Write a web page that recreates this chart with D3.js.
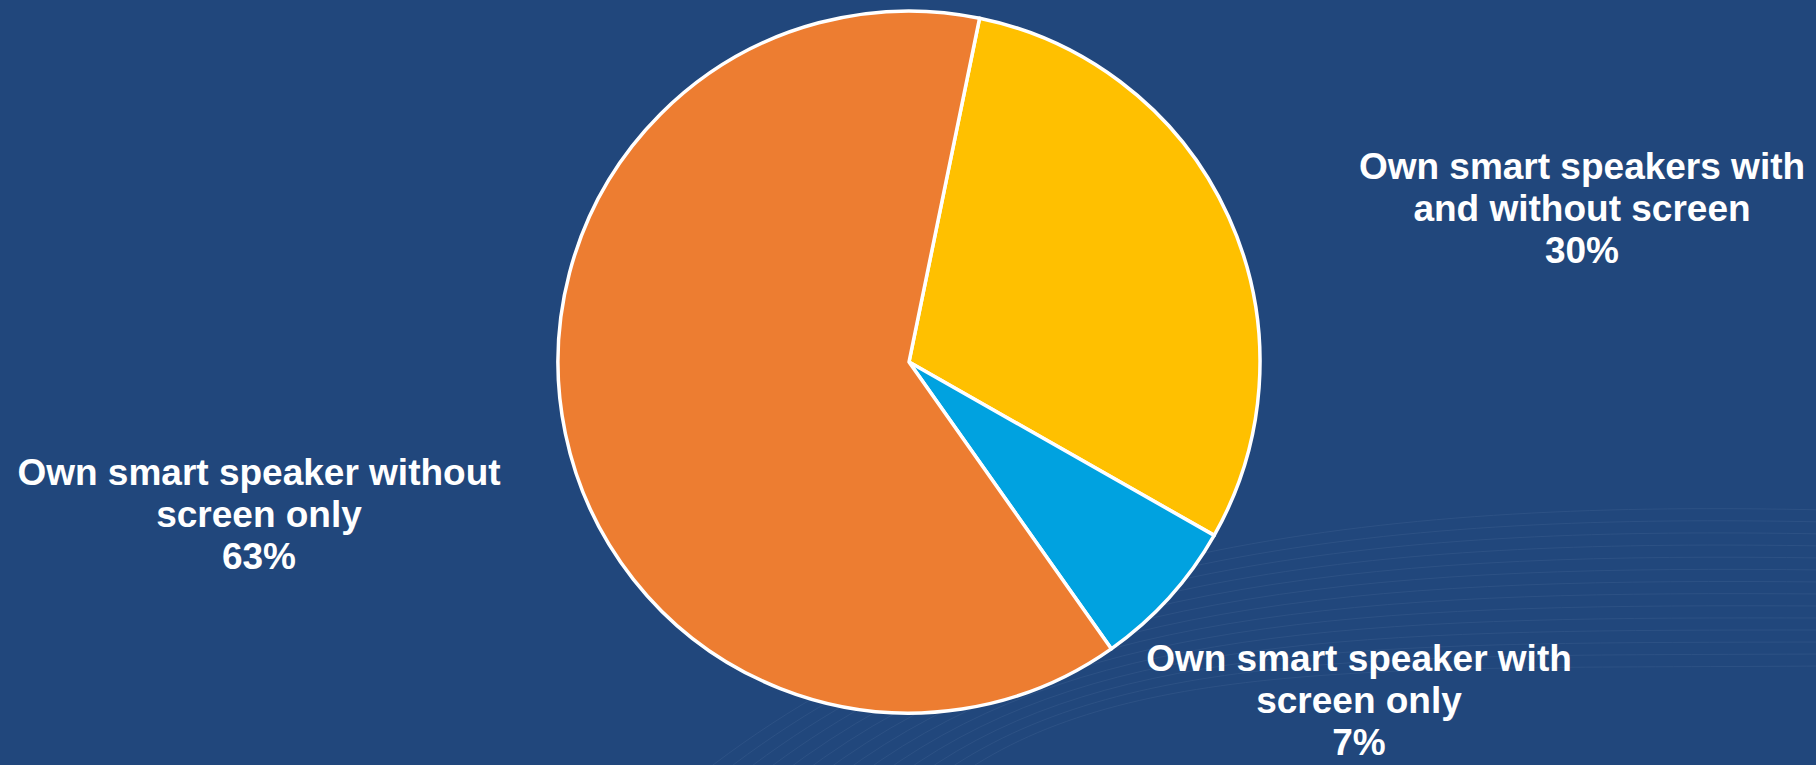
<!DOCTYPE html>
<html>
<head>
<meta charset="utf-8">
<script src="https://cdn.jsdelivr.net/npm/d3@7"></script>
<style>
html,body{margin:0;padding:0;background:#21477c;overflow:hidden;}
svg{display:block;}
</style>
</head>
<body>
<svg id="chart" width="1816" height="765"></svg>
<script>
const categories = [
  "Own smart speakers with and without screen",
  "Own smart speaker with screen only",
  "Own smart speaker without screen only"
];
const values = [30, 7, 63];
const labelLines = [
  ["Own smart speakers with", "and without screen", "30%"],
  ["Own smart speaker with", "screen only", "7%"],
  ["Own smart speaker without", "screen only", "63%"]
];
const colors = ["#ffc000", "#00a2e0", "#ed7d31"];

const W = 1816, H = 765;
const cx = 909, cy = 362, R = 351;
const svg = d3.select("#chart");

svg.append("rect").attr("width", W).attr("height", H).attr("fill", "#21477c");

// subtle decorative wave lines in lower right of background
const waves = svg.append("g").attr("opacity", 0.09);
for (let i = 0; i < 14; i++) {
  const y0 = 560 + i * 9;
  waves.append("path")
    .attr("d", `M${700 + i * 20},${H + 10} C ${1000 + i * 10},${y0 - 20} ${1400},${y0 - 60 + i * 4} ${W + 10},${y0 - 50 + i * 3}`)
    .attr("fill", "none")
    .attr("stroke", "#9fb6d8")
    .attr("stroke-width", 1);
}

const pie = d3.pie().sort(null).value(d => d)
  .startAngle(0.2025).endAngle(0.2025 + 2 * Math.PI);
const arc = d3.arc().innerRadius(0).outerRadius(R);

const g = svg.append("g").attr("transform", `translate(${cx},${cy})`);
g.selectAll("path.slice")
  .data(pie(values))
  .join("path")
  .attr("class", "slice")
  .attr("d", arc)
  .attr("fill", (d, i) => colors[i])
  .attr("stroke", "#ffffff")
  .attr("stroke-width", 3.5)
  .attr("stroke-linejoin", "round");

const labelPos = [
  {x: 1582, y: 179},
  {x: 1359, y: 671},
  {x: 259, y: 485}
];
const lh = 42;
labelLines.forEach((lines, i) => {
  const t = svg.append("text")
    .attr("x", labelPos[i].x)
    .attr("y", labelPos[i].y)
    .attr("text-anchor", "middle")
    .attr("fill", "#ffffff")
    .attr("font-family", "'Liberation Sans', Arial, sans-serif")
    .attr("font-weight", "bold")
    .attr("font-size", 37);
  lines.forEach((ln, j) => {
    t.append("tspan").attr("x", labelPos[i].x).attr("y", labelPos[i].y + j * lh).text(ln);
  });
});
</script>
</body>
</html>
